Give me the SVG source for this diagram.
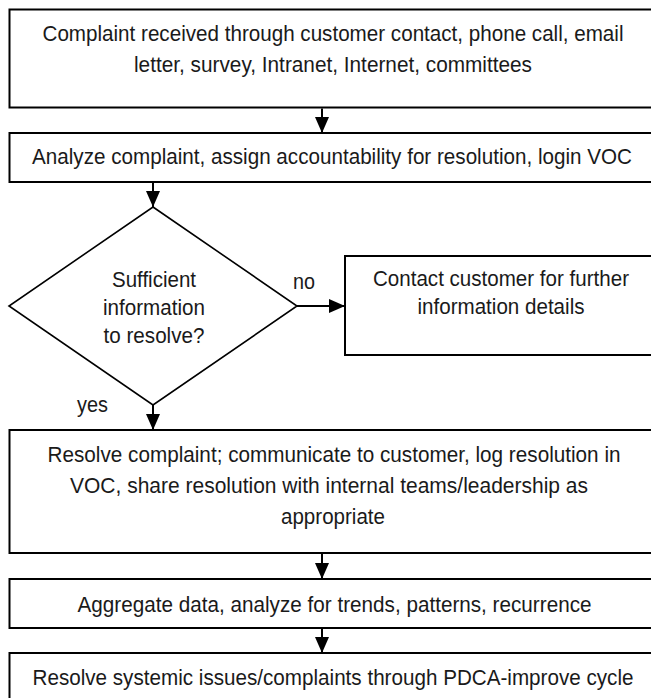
<svg xmlns="http://www.w3.org/2000/svg" width="651" height="698" viewBox="0 0 651 698">
<style>
  .box { fill: #ffffff; stroke: #000000; stroke-width: 2; }
  .dia { fill: #ffffff; stroke: #000000; stroke-width: 1.6; }
  .conn { fill: none; stroke: #000000; stroke-width: 2; }
  text { font-family: "Liberation Sans", Arial, sans-serif; font-size: 21.5px; fill: #1a1a1a; text-anchor: middle; }
  .lbl { text-anchor: start; }
</style>
<defs>
  <marker id="ah" viewBox="0 0 16 14" refX="16" refY="7" markerWidth="16" markerHeight="14" markerUnits="userSpaceOnUse" orient="auto">
    <path d="M0,0 L16,7 L0,14 Z" fill="#000000"/>
  </marker>
</defs>
<rect width="651" height="698" fill="#ffffff"/>

<g id="n1">
  <rect class="box" x="9.5" y="9.5" width="648" height="98"/>
  <text x="333" y="41" textLength="581" lengthAdjust="spacingAndGlyphs">Complaint received through customer contact, phone call, email</text>
  <text x="333" y="72" textLength="398" lengthAdjust="spacingAndGlyphs">letter, survey, Intranet, Internet, committees</text>
</g>

<g id="n2">
  <rect class="box" x="9.5" y="133" width="648" height="49"/>
  <text x="332" y="164" textLength="600" lengthAdjust="spacingAndGlyphs">Analyze complaint, assign accountability for resolution, login VOC</text>
</g>

<g id="n3">
  <polygon class="dia" points="153,207 297,306 153,405 9,306"/>
  <text x="154" y="287" textLength="84" lengthAdjust="spacingAndGlyphs">Sufficient</text>
  <text x="154" y="315" textLength="102" lengthAdjust="spacingAndGlyphs">information</text>
  <text x="154" y="343" textLength="101" lengthAdjust="spacingAndGlyphs">to resolve?</text>
</g>

<g id="n4">
  <rect class="box" x="345" y="256" width="312" height="99"/>
  <text x="501" y="286" textLength="256" lengthAdjust="spacingAndGlyphs">Contact customer for further</text>
  <text x="501" y="314" textLength="167" lengthAdjust="spacingAndGlyphs">information details</text>
</g>

<g id="n5">
  <rect class="box" x="9.5" y="430" width="648" height="123"/>
  <text x="334" y="462" textLength="573" lengthAdjust="spacingAndGlyphs">Resolve complaint; communicate to customer, log resolution in</text>
  <text x="329" y="493" textLength="518" lengthAdjust="spacingAndGlyphs">VOC, share resolution with internal teams/leadership as</text>
  <text x="333" y="524" textLength="104" lengthAdjust="spacingAndGlyphs">appropriate</text>
</g>

<g id="n6">
  <rect class="box" x="9.5" y="579" width="648" height="49"/>
  <text x="334.5" y="612" textLength="514" lengthAdjust="spacingAndGlyphs">Aggregate data, analyze for trends, patterns, recurrence</text>
</g>

<g id="n7">
  <rect class="box" x="9.5" y="653" width="648" height="60"/>
  <text x="333" y="685" textLength="601" lengthAdjust="spacingAndGlyphs">Resolve systemic issues/complaints through PDCA-improve cycle</text>
</g>

<g id="connectors">
  <line class="conn" x1="322" y1="108.5" x2="322" y2="133" marker-end="url(#ah)"/>
  <line class="conn" x1="153" y1="183" x2="153" y2="207" marker-end="url(#ah)"/>
  <line class="conn" x1="297" y1="306" x2="345" y2="306" marker-end="url(#ah)"/>
  <line class="conn" x1="153" y1="405" x2="153" y2="430" marker-end="url(#ah)"/>
  <line class="conn" x1="322" y1="554" x2="322" y2="579" marker-end="url(#ah)"/>
  <line class="conn" x1="322" y1="629" x2="322" y2="653" marker-end="url(#ah)"/>
  <text class="lbl" x="293" y="289" textLength="22" lengthAdjust="spacingAndGlyphs">no</text>
  <text class="lbl" x="77" y="412" textLength="31" lengthAdjust="spacingAndGlyphs">yes</text>
</g>
</svg>
